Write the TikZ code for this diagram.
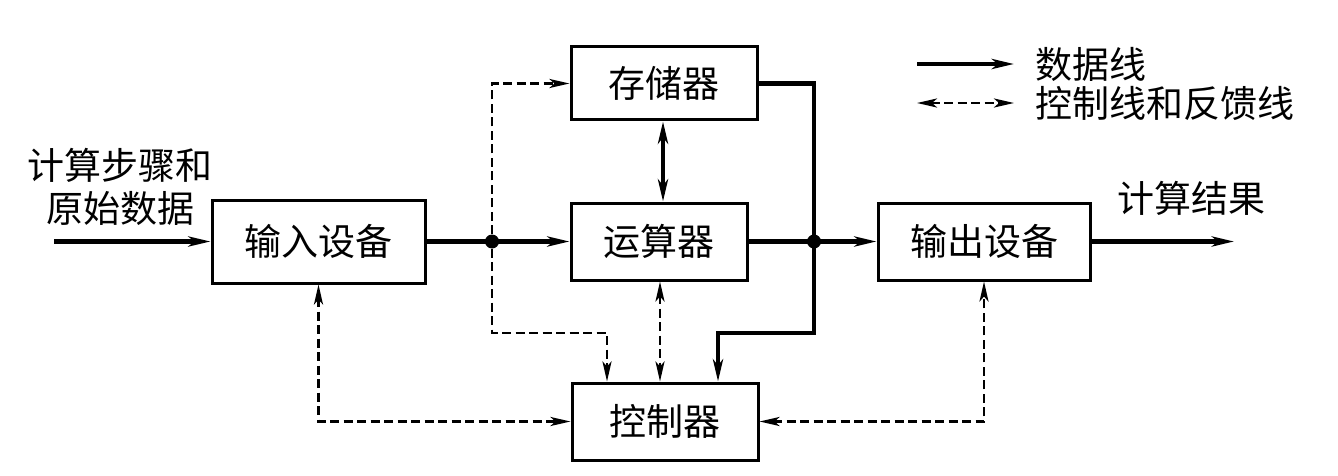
\documentclass[tikz,border=0pt]{standalone}
\usepackage{fontspec}
\setmainfont{Noto Sans CJK SC}
\usetikzlibrary{arrows.meta}
\begin{document}
\begin{tikzpicture}[x=1pt,y=-1pt,
  box/.style={draw, line width=3pt, inner sep=0pt, font=\fontsize{37}{43}\selectfont},
  lbl/.style={inner sep=0pt, font=\fontsize{37}{43}\selectfont},
  data/.style={line width=4.2pt, -{Stealth[length=22pt,width=10pt,inset=6pt]}},
  data2/.style={line width=4.2pt, {Stealth[length=22pt,width=10pt,inset=6pt]}-{Stealth[length=22pt,width=10pt,inset=6pt]}},
  ctrl/.style={line width=2.6pt, dash pattern=on 9pt off 4.5pt, -{Stealth[length=20pt,width=9pt,inset=5pt]}},
  ctrl2/.style={line width=2.6pt, dash pattern=on 9pt off 4.5pt, {Stealth[length=20pt,width=9pt,inset=5pt]}-{Stealth[length=20pt,width=9pt,inset=5pt]}},
  dot/.style={circle, fill, inner sep=0pt, minimum size=14pt}]
\fill[white] (0,0) rectangle (1338,476);
\useasboundingbox (0,0) rectangle (1338,476);

\node[box, minimum width=186pt, minimum height=73pt] (mem) at (664,83.5) {存储器};
\node[box, minimum width=176pt, minimum height=77pt] (alu) at (659,241.5) {运算器};
\node[box, minimum width=186pt, minimum height=77pt] (ctl) at (665,421.5) {控制器};
\node[box, minimum width=213pt, minimum height=83pt] (in) at (318.5,241.5) {输入设备};
\node[box, minimum width=212pt, minimum height=77pt] (out) at (984,241.5) {输出设备};

\node[dot] (j1) at (492,241.5) {};
\node[dot] (j2) at (814,241.5) {};

\coordinate (src) at (54,241.5);
\coordinate (res) at (1234,241.5);
\coordinate (c1) at (492,333);
\coordinate (c2) at (607,333);
\coordinate (m1) at (814,83.5);
\coordinate (m2) at (814,333);
\coordinate (m3) at (718,333);

% data lines
\draw[data] (src) -- (in.west);
\draw[data] (in.east) -- (alu.west);
\draw[data] (alu.east) -- (out.west);
\draw[data] (out.east) -- (res);
\draw[data2] (mem.south -| 663,0) -- (alu.north -| 663,0);
\draw[data, line join=miter] (mem.east) -- (m1) -- (m2) -- (m3) -- (ctl.north -| m3);

% control lines
\draw[ctrl] (j1) |- (mem.west);
\draw[ctrl] (j1) -- (c1) -- (c2) -- (ctl.north -| c2);
\draw[ctrl2] (alu.south -| 660,0) -- (ctl.north -| 660,0);
\draw[ctrl2] (in.south) |- (ctl.west);
\draw[ctrl2] (ctl.east) -| (out.south);

% labels
\node[lbl, align=center] (inlbl) at (120,187) {计算步骤和\\原始数据};
\node[lbl] (reslbl) at (1191,198) {计算结果};

% legend
\coordinate (la1) at (917,64);
\coordinate (lb1) at (1014,64);
\coordinate (la2) at (917,103);
\coordinate (lb2) at (1014,103);
\draw[data] (la1) -- (lb1);
\draw[ctrl2] (la2) -- (lb2);
\node[lbl, anchor=west] (leg1) at (1035,64) {数据线};
\node[lbl, anchor=west] (leg2) at (1035,103) {控制线和反馈线};
\end{tikzpicture}
\end{document}
